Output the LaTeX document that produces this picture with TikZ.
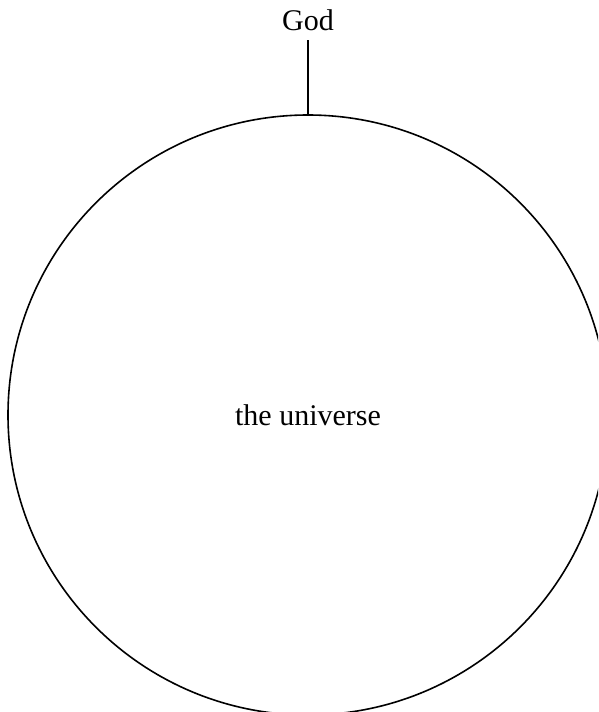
\documentclass[tikz,border=0pt]{standalone}
\usepackage{fontspec}
\setmainfont{Liberation Serif}
\usepackage{tikz}
\usetikzlibrary{positioning}

\begin{document}
\begin{tikzpicture}[x=1pt,y=-1pt,
  lbl/.style={font=\fontsize{30}{34}\selectfont,inner sep=0pt},
  whole/.style={circle,draw,line width=1.6pt,minimum size=600pt,inner sep=0pt}]
\useasboundingbox (0,0) rectangle (598,712);
\clip (0,0) rectangle (598,712);
\node[whole,lbl] (universe) at (308,415) {the universe};
\node[lbl,anchor=base] (god) at (308,30) {God};
\draw[line width=1.6pt,shorten <=10pt] (god.south) -- (universe.north);
\end{tikzpicture}
\end{document}
